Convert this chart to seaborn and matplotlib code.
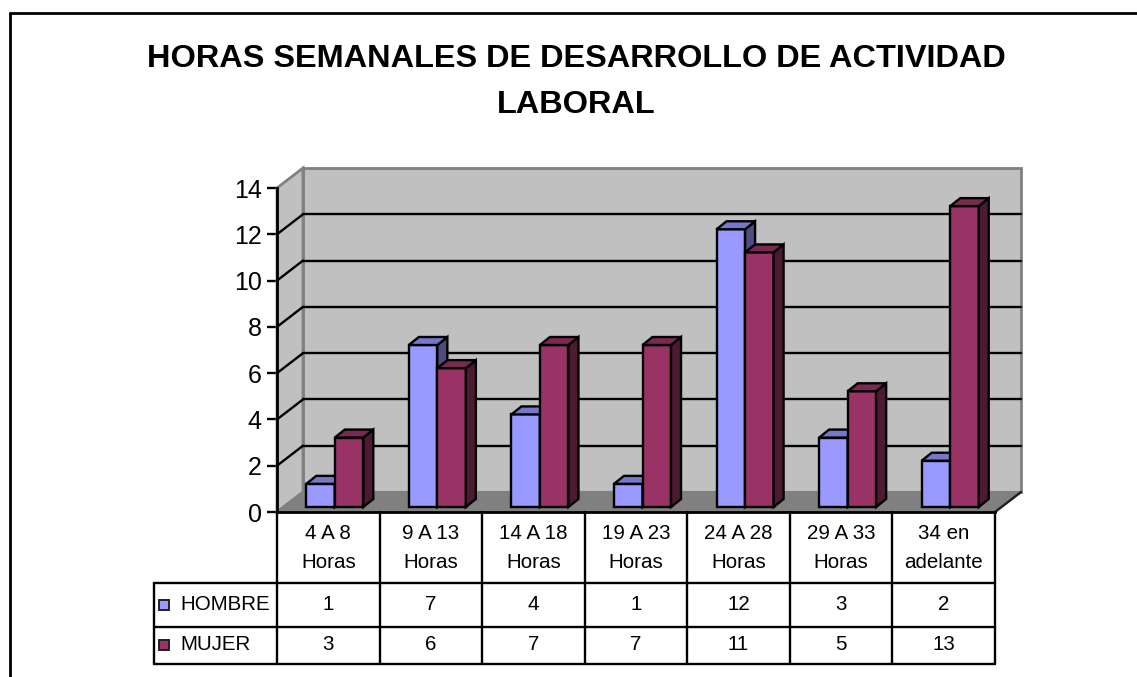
import matplotlib
matplotlib.use('Agg')
import matplotlib.pyplot as plt
import pandas as pd
import seaborn as sns
from matplotlib.patches import Polygon, Rectangle
from matplotlib.lines import Line2D

# data
categorias = ['4 A 8\nHoras', '9 A 13\nHoras', '14 A 18\nHoras', '19 A 23\nHoras',
              '24 A 28\nHoras', '29 A 33\nHoras', '34 en\nadelante']
hombre = [1, 7, 4, 1, 12, 3, 2]
mujer = [3, 6, 7, 7, 11, 5, 13]
series = ['HOMBRE', 'MUJER']
y_ticks = [0, 2, 4, 6, 8, 10, 12, 14]

colores = {'HOMBRE': ('#9999FF', '#7777CC', '#4D4D80'),
           'MUJER': ('#993366', '#7A2952', '#4D1A33')}

df = pd.DataFrame({
    'categoria': categorias * 2,
    'valor': hombre + mujer,
    'serie': ['HOMBRE'] * len(hombre) + ['MUJER'] * len(mujer),
})

sns.set_theme(style='white')
plt.rcParams['font.family'] = ['Liberation Sans', 'DejaVu Sans']

W, H = 1137, 677
fig = plt.figure(figsize=(W / 100, H / 100), dpi=100)

# front plane of the 3d box, in pixels
x0, x1, yb, yt = 277, 995, 512, 188
ax = fig.add_axes([x0 / W, (H - yb) / H, (x1 - x0) / W, (yb - yt) / H])
ax.set_xlim(-0.5, 6.5)
ax.set_ylim(0, 14)
ax.patch.set_visible(False)

sx = (x1 - x0) / 7.0
sy = (yb - yt) / 14.0
fx, fy = 26 / sx, 20 / sy      # depth of floor / walls
bx, by = 6.5 / sx, 5 / sy      # bars sit a bit behind the front
dx, dy = 10 / sx, 8 / sy       # bar depth
LW = 1.7

# walls and floor
ax.add_patch(Rectangle((-0.5 + fx, fy), 7, 14, fc='#C0C0C0', ec='#808080', lw=2,
                       zorder=0.5, clip_on=False))
ax.add_patch(Polygon([(-0.5, 0), (-0.5, 14), (-0.5 + fx, 14 + fy), (-0.5 + fx, fy)],
                     closed=True, fc='#C0C0C0', ec='#808080', lw=2, zorder=0.6, clip_on=False))
ax.add_patch(Polygon([(-0.5, 0), (6.5, 0), (6.5 + fx, fy), (-0.5 + fx, fy)],
                     closed=True, fc='#808080', ec='#808080', lw=1.5, zorder=0.7, clip_on=False))
ax.plot([6.5, 6.5 + fx], [0, fy], color='#202020', lw=LW, zorder=0.8, clip_on=False)
for v in y_ticks[1:-1]:
    ax.plot([-0.5 + fx, 6.5 + fx], [v + fy, v + fy], color='black', lw=LW, zorder=1, clip_on=False)
    ax.plot([-0.5, -0.5 + fx], [v, v + fy], color='black', lw=LW, zorder=1, clip_on=False)

sns.barplot(data=df, x='categoria', y='valor', hue='serie', hue_order=series,
            palette=[colores[s][0] for s in series], saturation=1, width=0.556,
            edgecolor='black', linewidth=LW, legend=False, ax=ax)
ax.set_xlim(-0.5, 6.5)
ax.set_ylim(0, 14)

for i, (serie, cont) in enumerate(zip(series, ax.containers)):
    _, c_top, c_side = colores[serie]
    z = 3 + i
    for p in cont.patches:
        px, w, h = p.get_x() + bx, p.get_width(), p.get_height()
        p.set_x(px)
        p.set_y(by)
        p.set_zorder(z)
        p.set_clip_on(False)
        top = [(px, by + h), (px + w, by + h), (px + w + dx, by + h + dy), (px + dx, by + h + dy)]
        side = [(px + w, by), (px + w, by + h), (px + w + dx, by + h + dy), (px + w + dx, by + dy)]
        ax.add_patch(Polygon(side, closed=True, fc=c_side, ec='black', lw=LW, zorder=z, clip_on=False))
        ax.add_patch(Polygon(top, closed=True, fc=c_top, ec='black', lw=LW, zorder=z, clip_on=False))

# axes
for s in ['top', 'right']:
    ax.spines[s].set_visible(False)
ax.spines['left'].set_color('black')
ax.spines['left'].set_linewidth(2)
ax.spines['bottom'].set_color('black')
ax.spines['bottom'].set_linewidth(2)
ax.spines['left'].set_zorder(2)
ax.set_yticks(y_ticks)
ax.set_yticklabels([str(t) for t in y_ticks])
ax.tick_params(axis='y', left=True, length=7, width=LW, color='black', labelsize=18, pad=4,
               labelcolor='black')
ax.set_xticks([])
ax.set_xlabel('')
ax.set_ylabel('')

# data table under the chart
tr = ax.get_xaxis_transform()
def ya(ypix):
    return (yb - ypix) / (yb - yt)

x_leg = -0.5 - 123 / sx
row_y = [583, 627, 664]
for r in row_y:
    ax.add_line(Line2D([x_leg, 6.5], [ya(r)] * 2, transform=tr, color='black', lw=LW, clip_on=False))
for k in range(8):
    ax.add_line(Line2D([k - 0.5] * 2, [ya(512), ya(664)], transform=tr, color='black', lw=LW, clip_on=False))
ax.add_line(Line2D([x_leg] * 2, [ya(583), ya(664)], transform=tr, color='black', lw=LW, clip_on=False))

for k, cat in enumerate(categorias):
    ax.text(k, ya(548), cat, transform=tr, ha='center', va='center', fontsize=14.8,
            linespacing=1.72, color='black', clip_on=False)
    ax.text(k, ya(605), str(hombre[k]), transform=tr, ha='center', va='center', fontsize=14.8,
            color='black', clip_on=False)
    ax.text(k, ya(645), str(mujer[k]), transform=tr, ha='center', va='center', fontsize=14.8,
            color='black', clip_on=False)

for serie, ycen in zip(series, [605, 645]):
    ax.add_patch(Rectangle((x_leg + 5 / sx, ya(ycen + 5)), 10 / sx, ya(ycen - 5) - ya(ycen + 5),
                           transform=tr, fc=colores[serie][0], ec='#202020', lw=1.4, clip_on=False))
    ax.text(x_leg + 26 / sx, ya(ycen), serie, transform=tr, ha='left', va='center', fontsize=14.8,
            color='black', clip_on=False)

# title
fig.text(576 / W, 1 - 82 / H, 'HORAS SEMANALES DE DESARROLLO DE ACTIVIDAD\nLABORAL',
         ha='center', va='center', fontsize=23.4, fontweight='bold', linespacing=1.72, color='black')

# chart area border (left and top only visible)
fig.add_artist(Line2D([9.5 / W, 9.5 / W], [0, 1 - 13 / H], transform=fig.transFigure, color='black', lw=2))
fig.add_artist(Line2D([9.5 / W, 1], [1 - 13 / H, 1 - 13 / H], transform=fig.transFigure, color='black', lw=2))

fig.savefig('out.png', dpi=100)
